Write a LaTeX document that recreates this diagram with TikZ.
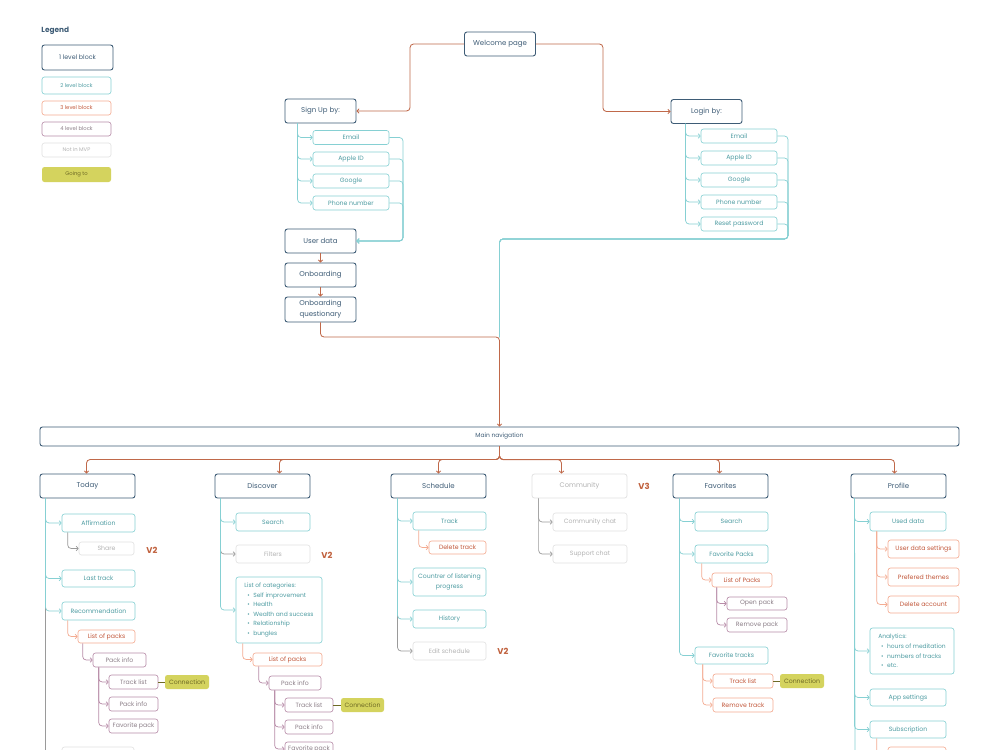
\documentclass[tikz,border=0pt]{standalone}
\usepackage{fontspec}
\setmainfont{Poppins}
\usetikzlibrary{arrows.meta,calc}

\definecolor{cone}{HTML}{3E5C76}
\definecolor{ctwo}{HTML}{86D0D3}
\definecolor{ctwotx}{HTML}{4E9CA2}
\definecolor{cthree}{HTML}{F4AC92}
\definecolor{cthreetx}{HTML}{C2573A}
\definecolor{cfour}{HTML}{B88CA8}
\definecolor{cfourtx}{HTML}{8C7F88}
\definecolor{cnomvp}{HTML}{E2E2E2}
\definecolor{cnomvptx}{HTML}{B3B3B3}
\definecolor{cgoing}{HTML}{D4D35E}
\definecolor{cgoingtx}{HTML}{6E6A25}
\definecolor{cbrown}{HTML}{C0694A}
\definecolor{cgray}{HTML}{9A9A9A}
\definecolor{cver}{HTML}{C0603C}

\newcommand{\bul}{\hspace*{4pt}\textbullet\hspace{5pt}}
\newcommand{\smallfnt}{\fontsize{8.8}{10}\selectfont}

\begin{document}
\begin{tikzpicture}[x=0.05cm,y=-0.05cm,
  sz/.style 2 args={minimum width=#1*0.05cm, minimum height=#2*0.05cm},
  blk/.style={rounded corners=3.5pt, inner sep=0pt, line width=0.9pt, font=\smallfnt},
  lvlone/.style={blk, draw=cone, line width=1.3pt, text=cone, font=\fontsize{10}{13}\selectfont},
  lvltwo/.style={blk, draw=ctwo, text=ctwotx},
  lvlthree/.style={blk, draw=cthree, text=cthreetx},
  lvlfour/.style={blk, draw=cfour, text=cfourtx},
  nomvp/.style={blk, draw=cnomvp, text=cnomvptx},
  goingto/.style={blk, fill=cgoing, text=cgoingtx},
  ver/.style={anchor=west, text=cver, font=\bfseries\fontsize{12}{14}\selectfont},
  conn/.style={line width=1pt, rounded corners=5pt, -{Straight Barb[length=3pt,width=6.5pt]}},
  brline/.style={conn, draw=cbrown, line width=1.2pt},
  tlline/.style={conn, draw=ctwo},
  orline/.style={conn, draw=cthree},
  puline/.style={conn, draw=cfour},
  gyline/.style={conn, draw=cgray},
  tlplain/.style={draw=ctwo, line width=1pt, rounded corners=5pt},
  cnline/.style={draw=cgoingtx, line width=0.9pt}
]
\useasboundingbox (0,0) rectangle (1000,750);
\fill[white] (0,0) rectangle (1000,750);
\clip (0,0) rectangle (1000,750);

% legend
\node[anchor=west, text=cone, font=\bfseries\fontsize{10.5}{12}\selectfont] (lgtitle) at (39,31) {Legend};
\node[lvlone, sz={71}{25}, font=\fontsize{9}{11}\selectfont] (lgone) at (77.5,57.5) {1 level block};
\node[lvltwo, sz={69}{17}, font=\fontsize{7.5}{9}\selectfont] (lgtwo) at (76.5,85.5) {2 level block};
\node[lvlthree, sz={69}{14}, font=\fontsize{7.5}{9}\selectfont] (lgthree) at (76.5,108) {3 level block};
\node[lvlfour, sz={69}{14}, font=\fontsize{7.5}{9}\selectfont] (lgfour) at (76.5,129) {4 level block};
\node[nomvp, sz={69}{14}, font=\fontsize{7.5}{9}\selectfont] (lgnomvp) at (76.5,150) {Not in MVP};
\node[goingto, sz={69}{15}, font=\fontsize{7.5}{9}\selectfont] (lggoing) at (76.5,174.5) {Going to};

% welcome, sign up, login
\node[lvlone, sz={71}{24}] (welcome) at (500,44) {Welcome page};
\node[lvlone, sz={71}{24}] (signup) at (320.5,111) {Sign Up by:};
\node[lvlone, sz={71}{24}] (login) at (706.5,111.5) {Login by:};
\foreach \n/\y/\t in {suemail/137.5/Email, suapple/159/Apple ID, sugoogle/181/Google, suphone/203/Phone number}
  \node[lvltwo, sz={76}{14}] (\n) at (351,\y) {\t};
\foreach \n/\y/\t in {liemail/136/Email, liapple/158/Apple ID, ligoogle/180/Google, liphone/202/Phone number, lireset/224/Reset password}
  \node[lvltwo, sz={76}{14}] (\n) at (739,\y) {\t};
\node[lvlone, sz={71}{24}] (userdata) at (320.5,241) {User data};
\node[lvlone, sz={71}{24}] (onb) at (320.5,275) {Onboarding};
\node[lvlone, sz={71}{25}, align=center, font=\fontsize{10}{16}\selectfont] (onbq) at (320.5,309.5) {Onboarding\\questionary};

\draw[brline] (welcome.west) -- ++(-54,0) |- (signup.east);
\draw[brline] (welcome.east) -- ++(67,0) |- (login.west);
\coordinate (sujoin) at (403,241);
\foreach \c in {suemail,suapple,sugoogle,suphone}{
  \draw[tlline] ($(signup.south west)+(13,0)$) |- (\c.west);
  \draw[tlline] (\c.east) -| (sujoin) -- (userdata.east);
}
\draw[brline] (userdata.south) -- (onb.north);
\draw[brline] (onb.south) -- (onbq.north);

% main navigation
\node[lvlone, sz={919}{19}, font=\fontsize{8.5}{10}\selectfont] (mainnav) at (499.5,436.5) {Main navigation};
\coordinate (lijoin) at (788,239);
\coordinate (navjoin) at (499.5,337);
\foreach \c in {liemail,liapple,ligoogle,liphone,lireset}{
  \draw[tlline] ($(login.south west)+(15,0)$) |- (\c.west);
  \draw[tlplain] (\c.east) -| (lijoin) -| (navjoin);
}
\draw[brline] (onbq.south) |- (navjoin) -- (mainnav.north);

% sections
\node[lvlone, sz={95}{24}] (today) at (87.5,486) {Today};
\node[lvlone, sz={95}{24}] (discover) at (262.5,486) {Discover};
\node[lvlone, sz={95}{24}] (schedule) at (438.5,486) {Schedule};
\node[nomvp, sz={95}{24}, line width=1.1pt, font=\fontsize{9.5}{11}\selectfont] (community) at (579.5,486) {Community};
\node[lvlone, sz={95}{24}] (favorites) at (720.5,486) {Favorites};
\node[lvlone, sz={95}{24}] (profile) at (898.5,486) {Profile};
\node[ver] (vthree) at (636,486) {V3};
\foreach \n/\dx in {today/-1, discover/17, schedule/0, community/-18, favorites/-1, profile/-4}
  \draw[brline] (mainnav.south) |- ($(\n.north)+(\dx,-14)$) -- ++(0,14);

% today
\node[lvltwo, sz={73}{18}] (affirm) at (98.5,523) {Affirmation};
\node[nomvp, sz={55}{13}] (share) at (106.5,548.5) {Share};
\node[ver] (vtwoa) at (144,550) {V2};
\node[lvltwo, sz={73}{17}] (lasttrack) at (98.5,578.5) {Last track};
\node[lvltwo, sz={73}{18}] (recomm) at (98.5,611) {Recommendation};
\node[lvlthree, sz={57}{13}] (packsa) at (106.5,636.5) {List of packs};
\node[lvlfour, sz={53}{14}] (infoa) at (119.5,660) {Pack info};
\node[lvlfour, sz={49}{14}] (tracksa) at (133.5,682) {Track list};
\node[goingto, sz={44}{14}] (conna) at (187,682) {Connection};
\node[lvlfour, sz={49}{14}] (infoaa) at (133.5,704) {Pack info};
\node[lvlfour, sz={49}{14}] (favpa) at (133.5,726) {Favorite pack};
\node[nomvp, sz={72}{20}] (todaymore) at (98,757) {};

\draw[gyline] ($(today.south west)+(6,0)$) |- (todaymore.west);
\foreach \c in {affirm,lasttrack,recomm}
  \draw[tlline] ($(today.south west)+(6,0)$) |- (\c.west);
\draw[gyline] ($(affirm.south west)+(6,0)$) |- (share.west);
\draw[orline] ($(recomm.south west)+(6,0)$) |- (packsa.west);
\draw[puline] ($(packsa.south west)+(5,0)$) |- (infoa.west);
\foreach \c in {tracksa,infoaa,favpa}
  \draw[puline] ($(infoa.south west)+(6,0)$) |- (\c.west);
\draw[cnline] (tracksa.east) -- (conna.west);

% discover
\node[lvltwo, sz={74}{18}] (dsearch) at (273,522) {Search};
\node[nomvp, sz={74}{18}] (filters) at (273,554) {Filters};
\node[ver] (vtwob) at (319,555) {V2};
\node[lvltwo, sz={86}{66}, align=left, font=\fontsize{8.5}{13.5}\selectfont] (cats) at (279,610)
  {List of categories:\\\bul Self improvement\\\bul Health\\\bul Wealth and success\\\bul Relationship\\\bul bungles};
\node[lvlthree, sz={69}{13}] (packsb) at (287.5,659.5) {List of packs};
\node[lvlfour, sz={52}{14}] (infob) at (295,683) {Pack info};
\node[lvlfour, sz={48}{14}] (tracksb) at (309,705) {Track list};
\node[goingto, sz={43}{14}] (connb) at (362.5,705) {Connection};
\node[lvlfour, sz={48}{14}] (infobb) at (309,727) {Pack info};
\node[lvlfour, sz={48}{14}] (favpb) at (309,749) {Favorite pack};

\draw[gyline] ($(discover.south west)+(6,0)$) |- (filters.west);
\foreach \c in {dsearch,cats}
  \draw[tlline] ($(discover.south west)+(6,0)$) |- (\c.west);
\draw[orline] ($(cats.south west)+(7,0)$) |- (packsb.west);
\draw[puline] ($(packsb.south west)+(6,0)$) |- (infob.west);
\foreach \c in {tracksb,infobb,favpb}
  \draw[puline] ($(infob.south west)+(6,0)$) |- (\c.west);
\draw[cnline] (tracksb.east) -- (connb.west);

% schedule
\node[lvltwo, sz={73}{18}] (strack) at (449.5,521) {Track};
\node[lvlthree, sz={57}{13}] (deltrack) at (457.5,547.5) {Delete track};
\node[lvltwo, sz={73}{28}, align=center, font=\fontsize{8.8}{14}\selectfont] (counter) at (449.5,582) {Countrer of listening\\progress};
\node[lvltwo, sz={73}{18}] (history) at (449.5,619) {History};
\node[nomvp, sz={73}{18}] (editsch) at (449.5,651) {Edit schedule};
\node[ver] (vtwoc) at (495,651) {V2};

\draw[gyline] ($(schedule.south west)+(7,0)$) |- (editsch.west);
\foreach \c in {strack,counter,history}
  \draw[tlline] ($(schedule.south west)+(7,0)$) |- (\c.west);
\draw[orline] ($(strack.south west)+(6,0)$) |- (deltrack.west);

% community
\node[nomvp, sz={74}{18}] (cchat) at (590,522) {Community chat};
\node[nomvp, sz={74}{18}] (schat) at (590,554) {Support chat};
\foreach \c in {cchat,schat}
  \draw[gyline] ($(community.south west)+(7,0)$) |- (\c.west);

% favorites
\node[lvltwo, sz={73}{19}] (fsearch) at (731.5,521.5) {Search};
\node[lvltwo, sz={73}{18}] (fpacks) at (731.5,554) {Favorite Packs};
\node[lvlthree, sz={60}{14}] (packsc) at (742,580) {List of Packs};
\node[lvlfour, sz={60}{13}] (openp) at (757,603.5) {Open pack};
\node[lvlfour, sz={60}{14}] (remp) at (757,625) {Remove pack};
\node[lvltwo, sz={73}{17}] (ftracks) at (731.5,655.5) {Favorite tracks};
\node[lvlthree, sz={60}{14}] (tracksc) at (743,681) {Track list};
\node[goingto, sz={44}{14}] (connc) at (802,681) {Connection};
\node[lvlthree, sz={60}{14}] (remt) at (743,705) {Remove track};

\foreach \c in {fsearch,fpacks,ftracks}
  \draw[tlline] ($(favorites.south west)+(7,0)$) |- (\c.west);
\draw[orline] ($(fpacks.south west)+(7,0)$) |- (packsc.west);
\foreach \c in {openp,remp}
  \draw[puline] ($(packsc.south west)+(5,0)$) |- (\c.west);
\foreach \c in {tracksc,remt}
  \draw[orline] ($(ftracks.south west)+(8,0)$) |- (\c.west);
\draw[cnline] (tracksc.east) -- (connc.west);

% profile
\node[lvltwo, sz={76}{19}] (used) at (908,521.5) {Used data};
\node[lvlthree, sz={71}{18}] (uds) at (923.5,549) {User data settings};
\node[lvlthree, sz={71}{18}] (prefth) at (923.5,577) {Prefered themes};
\node[lvlthree, sz={71}{17}] (delacc) at (923.5,604.5) {Delete account};
\node[lvltwo, sz={84}{46}, align=left, font=\fontsize{8.5}{13.8}\selectfont] (analytics) at (912,651)
  {Analytics:\\\bul hours of meditation\\\bul numbers of tracks\\\bul etc.};
\node[lvltwo, sz={76}{17}] (appset) at (908,697.5) {App settings};
\node[lvltwo, sz={76}{17}] (subs) at (908,729.5) {Subscription};
\node[lvlthree, sz={58}{18}] (subsub) at (917,756) {};
\coordinate (pend) at (855,760);

\draw[tlplain] ($(profile.south west)+(4,0)$) -- (pend);
\foreach \c in {used,analytics,appset,subs}
  \draw[tlline] ($(profile.south west)+(4,0)$) |- (\c.west);
\foreach \c in {uds,prefth,delacc}
  \draw[orline] ($(used.south west)+(7,0)$) |- (\c.west);
\draw[orline] ($(subs.south west)+(7,0)$) |- (subsub.west);
\end{tikzpicture}
\end{document}
